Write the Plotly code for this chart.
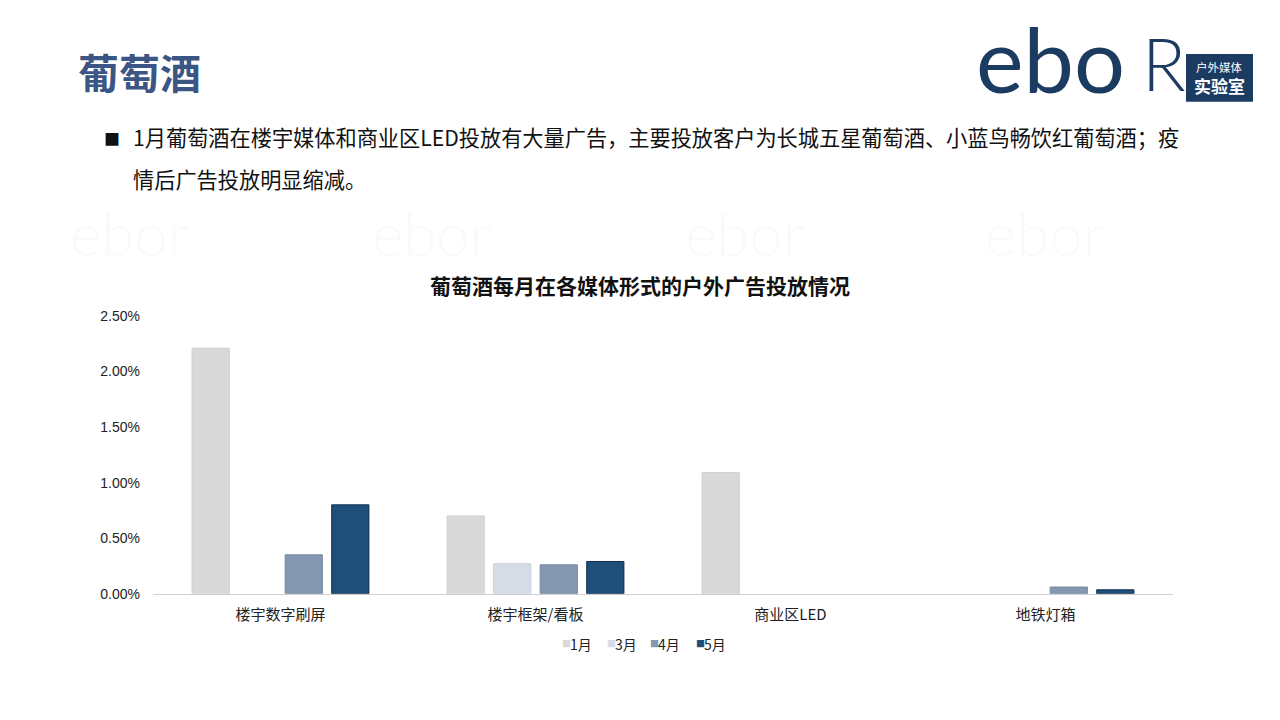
import plotly.graph_objects as go

categories = ["楼宇数字刷屏", "楼宇框架/看板", "商业区LED", "地铁灯箱"]
months = ["1月", "3月", "4月", "5月"]
val_jan = [0.0221, 0.0070, 0.0109, 0.0]
val_mar = [0.0, 0.0027, 0.0, 0.0]
val_apr = [0.0035, 0.0026, 0.0, 0.0006]
val_may = [0.0080, 0.0029, 0.0, 0.00035]
series = [val_jan, val_mar, val_apr, val_may]
colors = ["#D9D9D9", "#D6DCE5", "#8497B0", "#1F4E79"]
lines = ["#D0D0D0", "#CBD2DC", "#7A8BA2", "#0F2E4F"]
yticks = [0, 0.005, 0.01, 0.015, 0.02, 0.025]

W, H = 1280, 720
def px(x): return x / W
def py(y): return (H - y) / H

fig = go.Figure()
for m, v, c, lc in zip(months, series, colors, lines):
    fig.add_trace(go.Bar(x=categories, y=[val if val > 0 else None for val in v], name=m,
                         marker=dict(color=c, line=dict(color=lc, width=1))))

fig.update_layout(
    width=W, height=H,
    margin=dict(l=0, r=0, t=0, b=0),
    paper_bgcolor="white", plot_bgcolor="white",
    barmode="group", bargap=0.27, bargroupgap=0.2,
    font=dict(family="Noto Sans CJK SC, sans-serif", color="#333333"),
    xaxis=dict(domain=[px(153), px(1173)], showline=True, linecolor="#D0D0D0", linewidth=1,
               ticks="", tickfont=dict(size=15, color="#222222"), showgrid=False,
               ticklabelstandoff=7),
    yaxis=dict(domain=[py(599), py(315)], range=[0, 0.025], tickvals=yticks,
               tickformat=".2%", showgrid=False, zeroline=False, showline=False,
               tickfont=dict(size=14, color="#222222", family="Liberation Sans"),
               ticklabelstandoff=12),
    showlegend=False,
)

# Legend built from months / colors
leg_x = [560, 605, 648, 694]
for m, c, lx in zip(months, colors, leg_x):
    fig.add_annotation(text="■", x=px(lx), y=py(650), xref="paper", yref="paper",
                       xanchor="left", yanchor="middle", showarrow=False,
                       font=dict(size=9, color=c))
    fig.add_annotation(text=m, x=px(lx + 8), y=py(650), xref="paper", yref="paper",
                       xanchor="left", yanchor="middle", showarrow=False,
                       font=dict(size=14, color="#222222"))

# Page title
fig.add_annotation(text="<b>葡萄酒</b>", x=px(76), y=py(64), xref="paper", yref="paper",
                   xanchor="left", yanchor="middle", showarrow=False,
                   font=dict(size=41, color="#3B5685", family="Noto Sans CJK SC"))
# Bullet text
fig.add_annotation(text="■", x=px(102), y=py(133), xref="paper", yref="paper",
                   xanchor="left", yanchor="middle", showarrow=False,
                   font=dict(size=16, color="#111111"))
fig.add_annotation(text="1月葡萄酒在楼宇媒体和商业区LED投放有大量广告，主要投放客户为长城五星葡萄酒、小蓝鸟畅饮红葡萄酒；疫",
                   x=px(131), y=py(131), xref="paper", yref="paper",
                   xanchor="left", yanchor="middle", showarrow=False,
                   font=dict(size=21.2, color="#111111"))
fig.add_annotation(text="情后广告投放明显缩减。",
                   x=px(131), y=py(174), xref="paper", yref="paper",
                   xanchor="left", yanchor="middle", showarrow=False,
                   font=dict(size=21.2, color="#111111"))
# Chart title
fig.add_annotation(text="<b>葡萄酒每月在各媒体形式的户外广告投放情况</b>",
                   x=px(640), y=py(283), xref="paper", yref="paper",
                   xanchor="center", yanchor="middle", showarrow=False,
                   font=dict(size=21, color="#111111"))

# Logo
fig.add_annotation(text="ebo", x=px(974), y=py(51), xref="paper", yref="paper",
                   xanchor="left", yanchor="middle", showarrow=False,
                   font=dict(size=90, color="#1C3B61", family="Lato", weight=400))
fig.add_annotation(text="R", x=px(1140), y=py(56), xref="paper", yref="paper",
                   xanchor="left", yanchor="middle", showarrow=False,
                   font=dict(size=72, color="#1C3B61", family="Lato", weight=300))
fig.add_shape(type="rect", x0=px(1186), x1=px(1253), y0=py(96), y1=py(47),
              xref="paper", yref="paper", fillcolor="#1C3B61", line=dict(width=0))
fig.add_annotation(text="户外媒体", x=px(1219.5), y=py(60), xref="paper", yref="paper",
                   xanchor="center", yanchor="middle", showarrow=False,
                   font=dict(size=11.5, color="white"))
fig.add_annotation(text="<b>实验室</b>", x=px(1219.5), y=py(79), xref="paper", yref="paper",
                   xanchor="center", yanchor="middle", showarrow=False,
                   font=dict(size=17, color="white"))

# Faint watermarks
for wx in [68, 370, 683, 983]:
    fig.add_annotation(text="ebor", x=px(wx), y=py(230), xref="paper", yref="paper",
                       xanchor="left", yanchor="middle", showarrow=False,
                       font=dict(size=60, color="rgba(0,0,0,0.025)", family="Lato", weight=300))

fig.write_html("out.html", config={"displayModeBar": False},
               post_script="document.body.style.margin='0';document.body.style.overflow='hidden';")
